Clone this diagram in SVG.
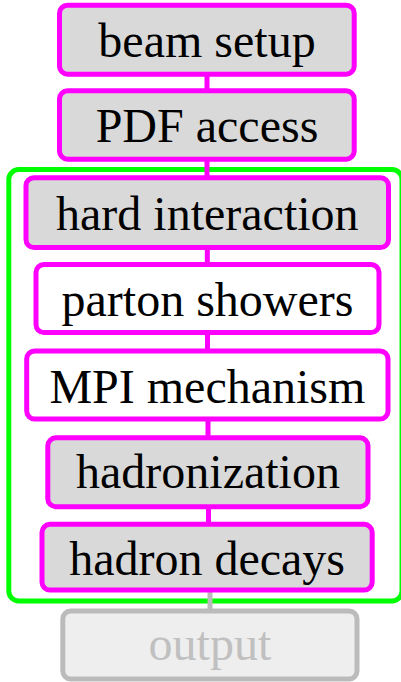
<svg xmlns="http://www.w3.org/2000/svg" width="401" height="682" viewBox="0 0 401 682">
<style>
.box{stroke:#ff00ff;stroke-width:5}
.g{fill:#d9d9d9}
.w{fill:#ffffff}
.t{font-size:48px;fill:#000;text-anchor:middle}
.edge{stroke:#ff00ff;stroke-width:5;fill:none}
</style>
<rect width="401" height="682" fill="#ffffff"/>
<g id="cluster">
<rect x="8.8" y="169.5" width="393.2" height="431.5" rx="10" fill="none" stroke="#00ff00" stroke-width="5"/>
</g>
<g id="connectors">
<line class="edge" x1="207" y1="74" x2="207" y2="91"/>
<line class="edge" x1="207" y1="159" x2="207" y2="178"/>
<line class="edge" x1="207.3" y1="247.5" x2="207.3" y2="264.5"/>
<line class="edge" x1="207.5" y1="332.5" x2="207.5" y2="351"/>
<line class="edge" x1="208" y1="419" x2="208" y2="438"/>
<line class="edge" x1="208.5" y1="506.7" x2="208.5" y2="524.3"/>
<line x1="210" y1="590" x2="210" y2="611" stroke="#bbbbbb" stroke-width="5"/>
</g>
<g font-family="'Liberation Serif', 'Times New Roman', serif">
<g id="beam_setup">
<rect class="box g" x="59.5" y="5.2" width="294.7" height="69" rx="8"/>
<text class="t" x="207" y="56.7">beam setup</text>
</g>
<g id="pdf_access">
<rect class="box g" x="59.5" y="90.8" width="294.7" height="68.4" rx="8"/>
<text class="t" x="207" y="141.7">PDF access</text>
</g>
<g id="hard_interaction">
<rect class="box g" x="26" y="177.7" width="362.5" height="69.8" rx="8"/>
<text class="t" x="207.3" y="230">hard interaction</text>
</g>
<g id="parton_showers">
<rect class="box w" x="36" y="264.5" width="343" height="68" rx="8"/>
<text class="t" x="207.5" y="316">parton showers</text>
</g>
<g id="mpi_mechanism">
<rect class="box w" x="26.7" y="351" width="361.3" height="68" rx="8"/>
<text class="t" x="207.4" y="402.7">MPI mechanism</text>
</g>
<g id="hadronization">
<rect class="box g" x="47.8" y="437.8" width="320.2" height="68.9" rx="8"/>
<text class="t" x="208" y="488.3">hadronization</text>
</g>
<g id="hadron_decays">
<rect class="box g" x="42" y="524.3" width="330.2" height="65.7" rx="8"/>
<text class="t" x="207.1" y="575">hadron decays</text>
</g>
<g id="output">
<rect x="62.8" y="611" width="294.2" height="68" rx="8" fill="#eeeeee" stroke="#bbbbbb" stroke-width="5"/>
<text class="t" x="209.9" y="660" style="fill:#c0c0c0">output</text>
</g>
</g>
</svg>
